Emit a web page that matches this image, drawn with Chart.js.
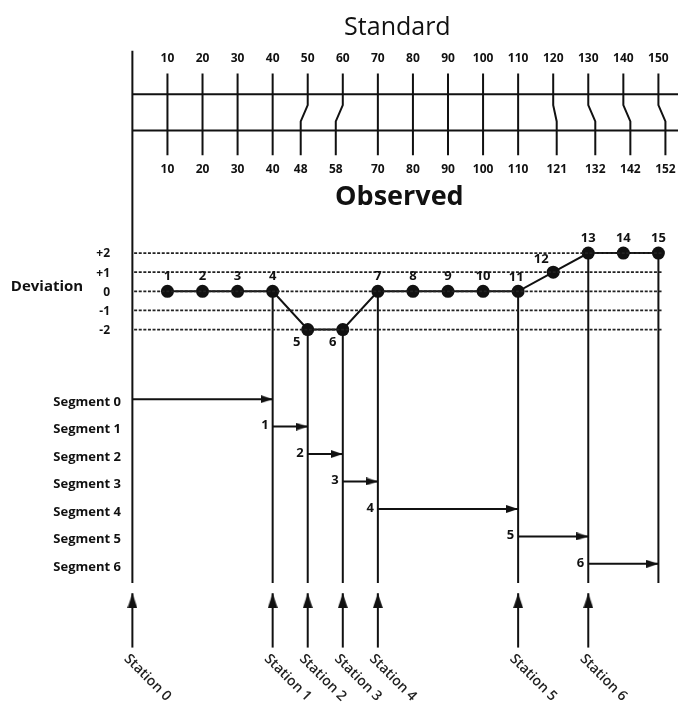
<!DOCTYPE html>
<html>
<head>
<meta charset="utf-8">
<script src="https://cdn.jsdelivr.net/npm/chart.js@4.4.1/dist/chart.umd.min.js"></script>
<style>
  html, body { margin: 0; padding: 0; background: #fff; }
  #wrap { width: 685px; height: 713px; }
</style>
</head>
<body>
<div id="wrap"><canvas id="chart" width="685" height="713"></canvas></div>
<script>
// ---- data ----
const standardTicks = [10, 20, 30, 40, 50, 60, 70, 80, 90, 100, 110, 120, 130, 140, 150];
const observedTicks = [10, 20, 30, 40, 48, 58, 70, 80, 90, 100, 110, 121, 132, 142, 152];
const pointLabels = ['1', '2', '3', '4', '5', '6', '7', '8', '9', '10', '11', '12', '13', '14', '15'];
const deviations = [0, 0, 0, 0, -2, -2, 0, 0, 0, 0, 0, 1, 2, 2, 2];
const deviationLevels = [2, 1, 0, -1, -2];
const deviationLabels = ['+2', '+1', '0', '-1', '-2'];
const segmentBounds = [0, 40, 50, 60, 70, 110, 130, 150];
const segmentLabels = ['Segment 0', 'Segment 1', 'Segment 2', 'Segment 3', 'Segment 4', 'Segment 5', 'Segment 6'];
const stationLabels = ['Station 0', 'Station 1', 'Station 2', 'Station 3', 'Station 4', 'Station 5', 'Station 6'];

// ---- layout ----
const W = 685, H = 713;
const INK = '#111';

// min/max so that value v1 lands on pixel p1 and v2 on p2
function fit(v1, p1, v2, p2, size) {
    const k = (p2 - p1) / (v2 - v1);
    const a = v1 - p1 / k;
    const b = v1 + (size - p1) / k;
    return { min: Math.min(a, b), max: Math.max(a, b) };
}

const xFit = fit(0, 128, 150, 665, W);
const rulerFit = fit(1, 89, 0, 126, H);     // 1 = standard line, 0 = observed line
const devFit = fit(0, 290, 2, 251, H);
const segFit = fit(0, 400, 6, 568, H);

// ruler geometry in ruler units
const tickTop = 1.57, kinkTop = 0.7, kinkBottom = 0.25, tickBottom = -0.68;
const axisTop = 2.2;           // ruler units
const stemBottom = 6.7;        // segment units
const arrowTop = 7.07, arrowBottom = 9.05;  // segment units

function arrowHead(dir, len, wid) {
    const c = document.createElement('canvas');
    const g = c.getContext('2d');
    if (dir === 'right') {
        c.width = len * 2; c.height = wid;
        g.beginPath(); g.moveTo(len, wid / 2); g.lineTo(0, 0); g.lineTo(0, wid);
    } else {
        c.width = wid; c.height = len * 2;
        g.beginPath(); g.moveTo(wid / 2, len); g.lineTo(0, len * 2); g.lineTo(wid, len * 2);
    }
    g.closePath();
    g.fillStyle = INK;
    g.fill();
    return c;
}
const headRight = arrowHead('right', 12, 8);
const headUp = arrowHead('up', 15, 10);

const datasets = [];

// ruler lines
[1, 0].forEach(v => {
    datasets.push({
        yAxisID: 'yR',
        data: [{ x: 0, y: v }, { x: xFit.max, y: v }],
        borderColor: INK, borderWidth: 2, pointRadius: 0
    });
});

// ruler ticks (standard -> observed)
standardTicks.forEach((s, i) => {
    const o = observedTicks[i];
    datasets.push({
        yAxisID: 'yR',
        data: [{ x: s, y: tickTop }, { x: s, y: kinkTop }, { x: o, y: kinkBottom }, { x: o, y: tickBottom }],
        borderColor: INK, borderWidth: 2, pointRadius: 0
    });
});

// dotted deviation levels
deviationLevels.forEach(v => {
    datasets.push({
        yAxisID: 'yD',
        data: [{ x: 0.5, y: v }, { x: 151, y: v }],
        borderColor: '#222', borderWidth: 1.8, borderDash: [3, 1.6], pointRadius: 0
    });
});

// deviation trace
datasets.push({
    yAxisID: 'yD',
    data: standardTicks.map((s, i) => ({ x: s, y: deviations[i] })),
    borderColor: INK, borderWidth: 2,
    pointRadius: 6.5, pointBackgroundColor: INK, pointBorderColor: INK, pointBorderWidth: 0
});

// segment arrows
segmentLabels.forEach((_, k) => {
    datasets.push({
        yAxisID: 'yS',
        data: [{ x: segmentBounds[k], y: k }, { x: segmentBounds[k + 1], y: k }],
        borderColor: INK, borderWidth: 2,
        pointStyle: c => c.dataIndex === 1 ? headRight : 'circle',
        pointRadius: c => c.dataIndex === 1 ? 5 : 0
    });
});

// station arrows
stationLabels.forEach((_, k) => {
    const s = segmentBounds[k];
    datasets.push({
        yAxisID: 'yS',
        data: [{ x: s, y: arrowBottom }, { x: s, y: arrowTop }],
        borderColor: INK, borderWidth: 2,
        pointStyle: c => c.dataIndex === 1 ? headUp : 'circle',
        pointRadius: c => c.dataIndex === 1 ? 5 : 0
    });
});

const labelOffset = { 5: [-11, 13], 6: [-10, 13], 11: [-2, -14], 12: [-12, -13] };

const diagram = {
    id: 'diagram',
    beforeDatasetsDraw(chart) {
        const { ctx, scales: { x, yR, yD, yS } } = chart;
        ctx.save();
        ctx.strokeStyle = INK;
        ctx.lineWidth = 2;
        // station 0 axis
        ctx.beginPath();
        ctx.moveTo(x.getPixelForValue(0), yR.getPixelForValue(axisTop));
        ctx.lineTo(x.getPixelForValue(0), yS.getPixelForValue(stemBottom));
        // stems from trace down to the segments
        segmentBounds.slice(1).forEach(s => {
            const i = standardTicks.indexOf(s);
            const px = x.getPixelForValue(s);
            ctx.moveTo(px, yD.getPixelForValue(deviations[i]));
            ctx.lineTo(px, yS.getPixelForValue(stemBottom));
        });
        ctx.stroke();
        ctx.restore();
    },
    afterDatasetsDraw(chart) {
        const { ctx, scales: { x, yR, yD, yS } } = chart;
        ctx.save();
        ctx.fillStyle = INK;
        ctx.textBaseline = 'middle';
        ctx.textAlign = 'center';

        const midX = x.getPixelForValue(75);
        ctx.font = '25px "Open Sans"';
        ctx.fillText('Standard', midX + 2, yR.getPixelForValue(1) - 66);
        ctx.font = 'bold 27px "Open Sans"';
        ctx.fillText('Observed', midX + 4, yR.getPixelForValue(0) + 67);

        ctx.font = 'bold 12px "Open Sans"';
        standardTicks.forEach(s => ctx.fillText(String(s), x.getPixelForValue(s), yR.getPixelForValue(1) - 36));
        observedTicks.forEach(o => ctx.fillText(String(o), x.getPixelForValue(o), yR.getPixelForValue(0) + 39));

        // deviation axis labels
        ctx.font = 'bold 15px "Open Sans"';
        ctx.fillText('Deviation', 47, yD.getPixelForValue(0) - 5);
        ctx.textAlign = 'right';
        ctx.font = 'bold 12px "Open Sans"';
        deviationLevels.forEach((v, i) => ctx.fillText(deviationLabels[i], 110, yD.getPixelForValue(v) + 1));

        // point numbers
        ctx.textAlign = 'center';
        ctx.font = 'bold 13px "Open Sans"';
        standardTicks.forEach((s, i) => {
            const off = labelOffset[pointLabels[i]] || [0, -15];
            ctx.fillText(pointLabels[i], x.getPixelForValue(s) + off[0], yD.getPixelForValue(deviations[i]) + off[1]);
        });

        // segment labels and numbers
        ctx.textAlign = 'right';
        ctx.font = 'bold 13px "Open Sans"';
        segmentLabels.forEach((t, k) => ctx.fillText(t, 121, yS.getPixelForValue(k) + 3));
        ctx.font = 'bold 13px "Open Sans"';
        segmentLabels.forEach((t, k) => {
            if (k === 0) return;
            ctx.fillText(String(k), x.getPixelForValue(segmentBounds[k]) - 4, yS.getPixelForValue(k) - 1);
        });

        // station labels
        ctx.textAlign = 'left';
        ctx.font = '600 14px "Open Sans"';
        ctx.fillStyle = '#222';
        stationLabels.forEach((t, k) => {
            ctx.save();
            ctx.translate(x.getPixelForValue(segmentBounds[k]) - 6, yS.getPixelForValue(arrowBottom) + 9);
            ctx.rotate(45 * Math.PI / 180);
            ctx.fillText(t, 0, 0);
            ctx.restore();
        });
        ctx.restore();
    }
};

new Chart(document.getElementById('chart'), {
    type: 'line',
    data: { datasets },
    options: {
        responsive: false,
        animation: false,
        events: [],
        layout: { padding: 0 },
        plugins: { legend: { display: false }, tooltip: { enabled: false } },
        scales: {
            x: { type: 'linear', display: false, min: xFit.min, max: xFit.max },
            yR: { type: 'linear', axis: 'y', display: false, min: rulerFit.min, max: rulerFit.max },
            yD: { type: 'linear', axis: 'y', display: false, min: devFit.min, max: devFit.max },
            yS: { type: 'linear', axis: 'y', display: false, min: segFit.min, max: segFit.max, reverse: true }
        }
    },
    plugins: [diagram]
});
</script>
</body>
</html>
